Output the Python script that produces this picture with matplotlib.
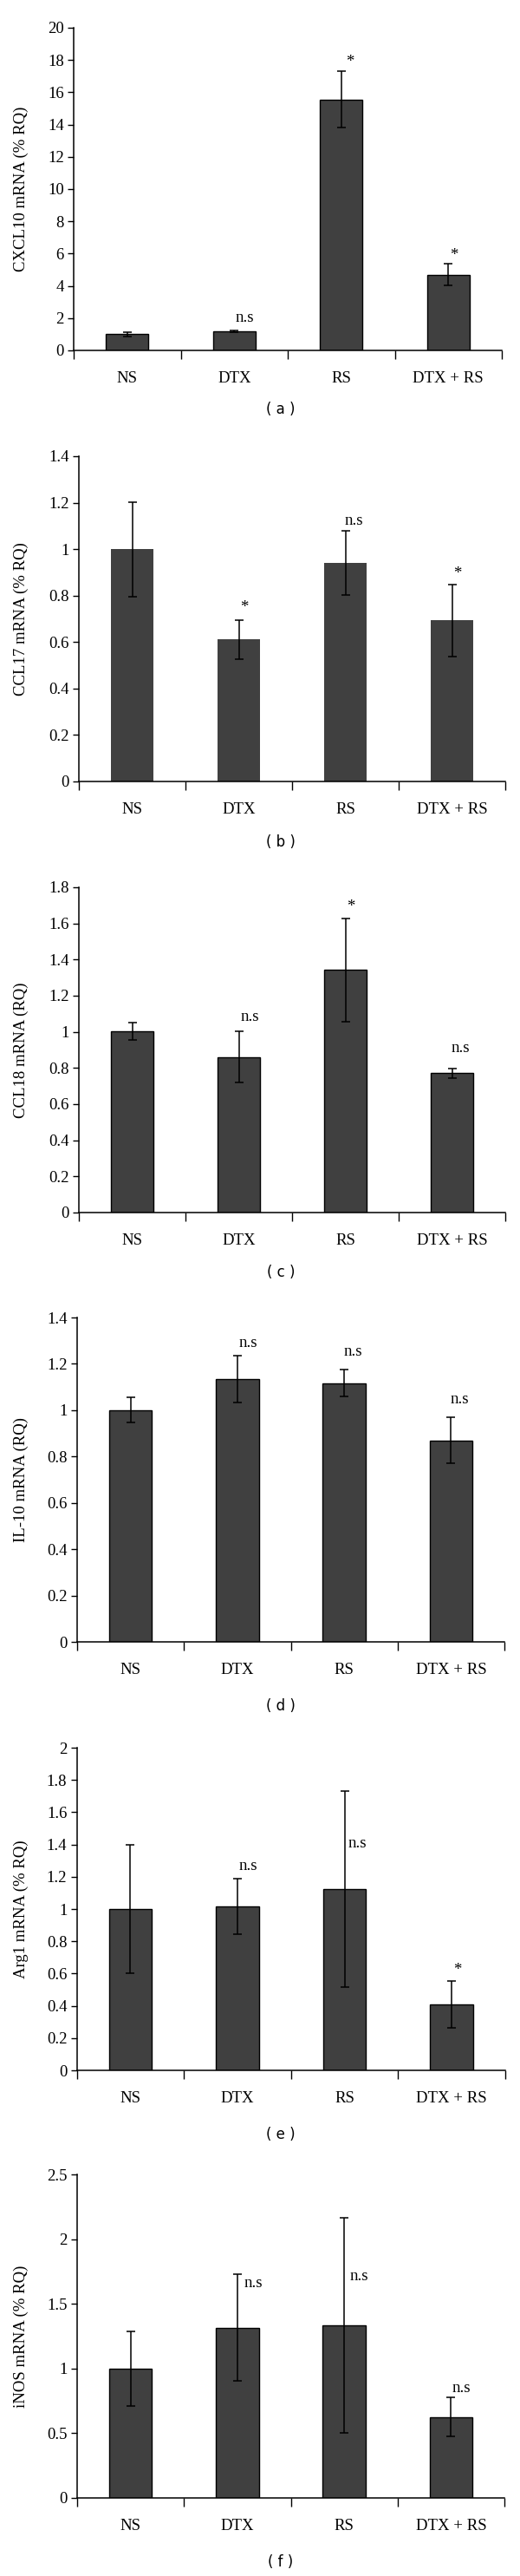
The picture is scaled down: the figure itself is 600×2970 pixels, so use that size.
import matplotlib
matplotlib.use("Agg")
import matplotlib.pyplot as plt
import numpy as np

categories = ["NS", "DTX", "RS", "DTX + RS"]

ylabels = ["CXCL10 mRNA (% RQ)", "CCL17 mRNA (% RQ)", "CCL18 mRNA (RQ)",
           "IL-10 mRNA (RQ)", "Arg1 mRNA (% RQ)", "iNOS mRNA (% RQ)"]
captions = ["( a )", "( b )", "( c )", "( d )", "( e )", "( f )"]

cxcl10_vals = [1.0, 1.17, 15.55, 4.70]
cxcl10_err = [0.15, 0.06, 1.75, 0.67]
ccl17_vals = [1.0, 0.611, 0.94, 0.694]
ccl17_err = [0.203, 0.085, 0.138, 0.155]
ccl18_vals = [1.003, 0.861, 1.342, 0.771]
ccl18_err = [0.05, 0.14, 0.285, 0.027]
il10_vals = [1.0, 1.134, 1.116, 0.870]
il10_err = [0.054, 0.102, 0.058, 0.10]
arg1_vals = [1.0, 1.015, 1.125, 0.407]
arg1_err = [0.40, 0.171, 0.608, 0.146]
inos_vals = [1.0, 1.317, 1.335, 0.626]
inos_err = [0.29, 0.41, 0.833, 0.149]

yticks_list = [
    [0, 2, 4, 6, 8, 10, 12, 14, 16, 18, 20],
    [0, 0.2, 0.4, 0.6, 0.8, 1, 1.2, 1.4],
    [0, 0.2, 0.4, 0.6, 0.8, 1, 1.2, 1.4, 1.6, 1.8],
    [0, 0.2, 0.4, 0.6, 0.8, 1, 1.2, 1.4],
    [0, 0.2, 0.4, 0.6, 0.8, 1, 1.2, 1.4, 1.6, 1.8, 2],
    [0, 0.5, 1, 1.5, 2, 2.5],
]

# significance marks: (category index, label, y value)
marks_a = [(1, "n.s", 2.0), (2, "*", 17.9), (3, "*", 5.9)]
marks_b = [(1, "*", 0.75), (2, "n.s", 1.12), (3, "*", 0.895)]
marks_c = [(1, "n.s", 1.08), (2, "*", 1.69), (3, "n.s", 0.91)]
marks_d = [(1, "n.s", 1.29), (2, "n.s", 1.254), (3, "n.s", 1.048)]
marks_e = [(1, "n.s", 1.265), (2, "n.s", 1.404), (3, "*", 0.62)]
marks_f = [(1, "n.s", 1.66), (2, "n.s", 1.71), (3, "n.s", 0.845)]

values = [cxcl10_vals, ccl17_vals, ccl18_vals, il10_vals, arg1_vals, inos_vals]
errors = [cxcl10_err, ccl17_err, ccl18_err, il10_err, arg1_err, inos_err]
marks = [marks_a, marks_b, marks_c, marks_d, marks_e, marks_f]

# layout in pixels: left, right, top, bottom, caption y
boxes = [
    (85, 579, 32, 404, 472),
    (91, 583, 526, 901, 971),
    (91, 583, 1023, 1398, 1467),
    (89, 582, 1519, 1893, 1967),
    (88.5, 583, 2015, 2387, 2461),
    (89, 582, 2507, 2880, 2954),
]
mark_dx = [
    [0, 0.10, 0.08, 0.05],
    [0, 0.05, 0.08, 0.05],
    [0, 0.10, 0.05, 0.08],
    [0, 0.10, 0.08, 0.08],
    [0, 0.10, 0.12, 0.05],
    [0, 0.15, 0.14, 0.10],
]
edges = [True, False, True, True, True, True]

W, H = 600, 2970
fig = plt.figure(figsize=(W / 100, H / 100), dpi=100)
fig.patch.set_facecolor("white")
serif = ["Liberation Serif", "DejaVu Serif"]
fs = 13.5

x = np.arange(len(categories))
for i in range(6):
    l, r, t, b, cy = boxes[i]
    ax = fig.add_axes([l / W, 1 - b / H, (r - l) / W, (b - t) / H])
    ax.bar(x, values[i], width=0.4, color="#404040",
           edgecolor="black" if edges[i] else "#404040",
           linewidth=1.0 if edges[i] else 0.0, zorder=2)
    ax.errorbar(x, values[i], yerr=errors[i], fmt="none", ecolor="black",
                elinewidth=1.1, capsize=3.5, capthick=1.1, zorder=3)
    yt = yticks_list[i]
    ax.set_ylim(0, yt[-1])
    ax.set_xlim(-0.5, len(categories) - 0.5)
    ax.set_yticks(yt)
    ax.set_yticklabels([("%g" % v) for v in yt], family=serif, fontsize=fs)
    ax.set_xticks(x)
    ax.set_xticklabels(categories, family=serif, fontsize=fs)
    ax.set_xticks(np.arange(-0.5, len(categories), 1.0), minor=True)
    ax.tick_params(axis="x", which="major", length=0, pad=17)
    ax.tick_params(axis="x", which="minor", length=7, width=1.0, direction="out")
    ax.tick_params(axis="y", length=5, width=1.0, direction="out", pad=3)
    for s in ["top", "right"]:
        ax.spines[s].set_visible(False)
    for s in ["left", "bottom"]:
        ax.spines[s].set_linewidth(1.1)
    ax.set_ylabel(ylabels[i], family=serif, fontsize=fs)
    ax.yaxis.set_label_coords((33 - l) / (r - l), 0.5)
    for (ci, lab, yv) in marks[i]:
        ax.text(ci + mark_dx[i][ci], yv, lab, family=serif, fontsize=fs,
                ha="center", va="center", zorder=4)
    fig.text(0.54, 1 - cy / H, captions[i], family="DejaVu Sans", fontsize=12,
             ha="center", va="center")

fig.savefig("out.png", dpi=100, facecolor="white")
